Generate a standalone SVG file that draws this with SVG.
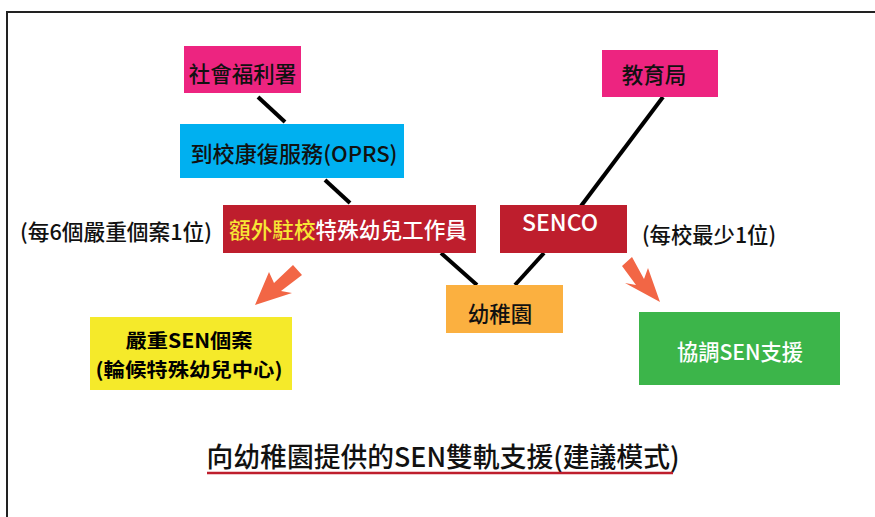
<svg xmlns="http://www.w3.org/2000/svg" width="875" height="517" viewBox="0 0 875 517">
<style>
text{font-family:"Noto Sans CJK TC","Noto Sans",sans-serif;dominant-baseline:central;text-anchor:middle;font-weight:500}
.lbl{font-size:21.5px;fill:#111}
.w{fill:#fff}
.b{font-weight:bold;fill:#000;font-size:19.5px}
.con{stroke:#000;stroke-width:4;fill:none}
.arr{fill:#f26645}
</style>
<rect width="875" height="517" fill="#fff"/>
<path d="M7 517 V12 H875" fill="none" stroke="#222" stroke-width="2"/>
<g id="connectors">
<line class="con" x1="258" y1="97" x2="285" y2="122"/>
<line class="con" x1="325" y1="180" x2="350" y2="203"/>
<line class="con" x1="663" y1="97" x2="581" y2="206"/>
<line class="con" x1="441" y1="253" x2="477" y2="285"/>
<line class="con" x1="544" y1="253" x2="515" y2="285"/>
<polygon class="arr" points="255,305 269,272 274,283 293,265 302,275 281,291 292,293"/>
<polygon class="arr" points="660,302 648,268 644,279 632,257 622,266 636,285 625,283"/>
</g>
<g id="swd"><rect x="184" y="46" width="117" height="47" fill="#ed2480"/><text class="lbl" x="242.5" y="72">社會福利署</text></g>
<g id="oprs"><rect x="180" y="124" width="224" height="54" fill="#00b0f0"/><text class="lbl" x="294" y="152" textLength="207" lengthAdjust="spacingAndGlyphs">到校康復服務(OPRS)</text></g>
<g id="worker"><rect x="223" y="205" width="253" height="48" fill="#be1e2d"/><text class="lbl" x="348" y="228" textLength="238" lengthAdjust="spacingAndGlyphs"><tspan fill="#f7e735">額外駐校</tspan><tspan fill="#fff">特殊幼兒工作員</tspan></text></g>
<g id="note1"><text class="lbl" x="116" y="230" textLength="192" lengthAdjust="spacingAndGlyphs">(每6個嚴重個案1位)</text></g>
<g id="edb"><rect x="602" y="50" width="116" height="47" fill="#ed2480"/><text class="lbl" x="654" y="73">教育局</text></g>
<g id="senco"><rect x="500" y="205" width="127" height="48" fill="#be1e2d"/><text class="lbl w" x="560" y="221" style="font-size:23px">SENCO</text></g>
<g id="note2"><text class="lbl" x="709" y="233" textLength="134" lengthAdjust="spacingAndGlyphs">(每校最少1位)</text></g>
<g id="kg"><rect x="446" y="285" width="117" height="48" fill="#fbb040"/><text class="lbl" x="500" y="312">幼稚園</text></g>
<g id="severe"><rect x="90" y="317" width="202" height="73" fill="#f5ea2a"/><text class="lbl b" x="189" y="339" textLength="127" lengthAdjust="spacingAndGlyphs">嚴重SEN個案</text><text class="lbl b" x="189" y="368" textLength="187" lengthAdjust="spacingAndGlyphs">(輪候特殊幼兒中心)</text></g>
<g id="coord"><rect x="639" y="312" width="201" height="73" fill="#3cb54a"/><text class="lbl w" x="740" y="350" textLength="126" lengthAdjust="spacingAndGlyphs">協調SEN支援</text></g>
<g id="title"><text x="443" y="455" style="font-size:27px;fill:#111" textLength="473" lengthAdjust="spacingAndGlyphs">向幼稚園提供的SEN雙軌支援(建議模式)</text><line x1="207" y1="473" x2="673" y2="473" stroke="#be1e2d" stroke-width="2.5"/></g>
</svg>
